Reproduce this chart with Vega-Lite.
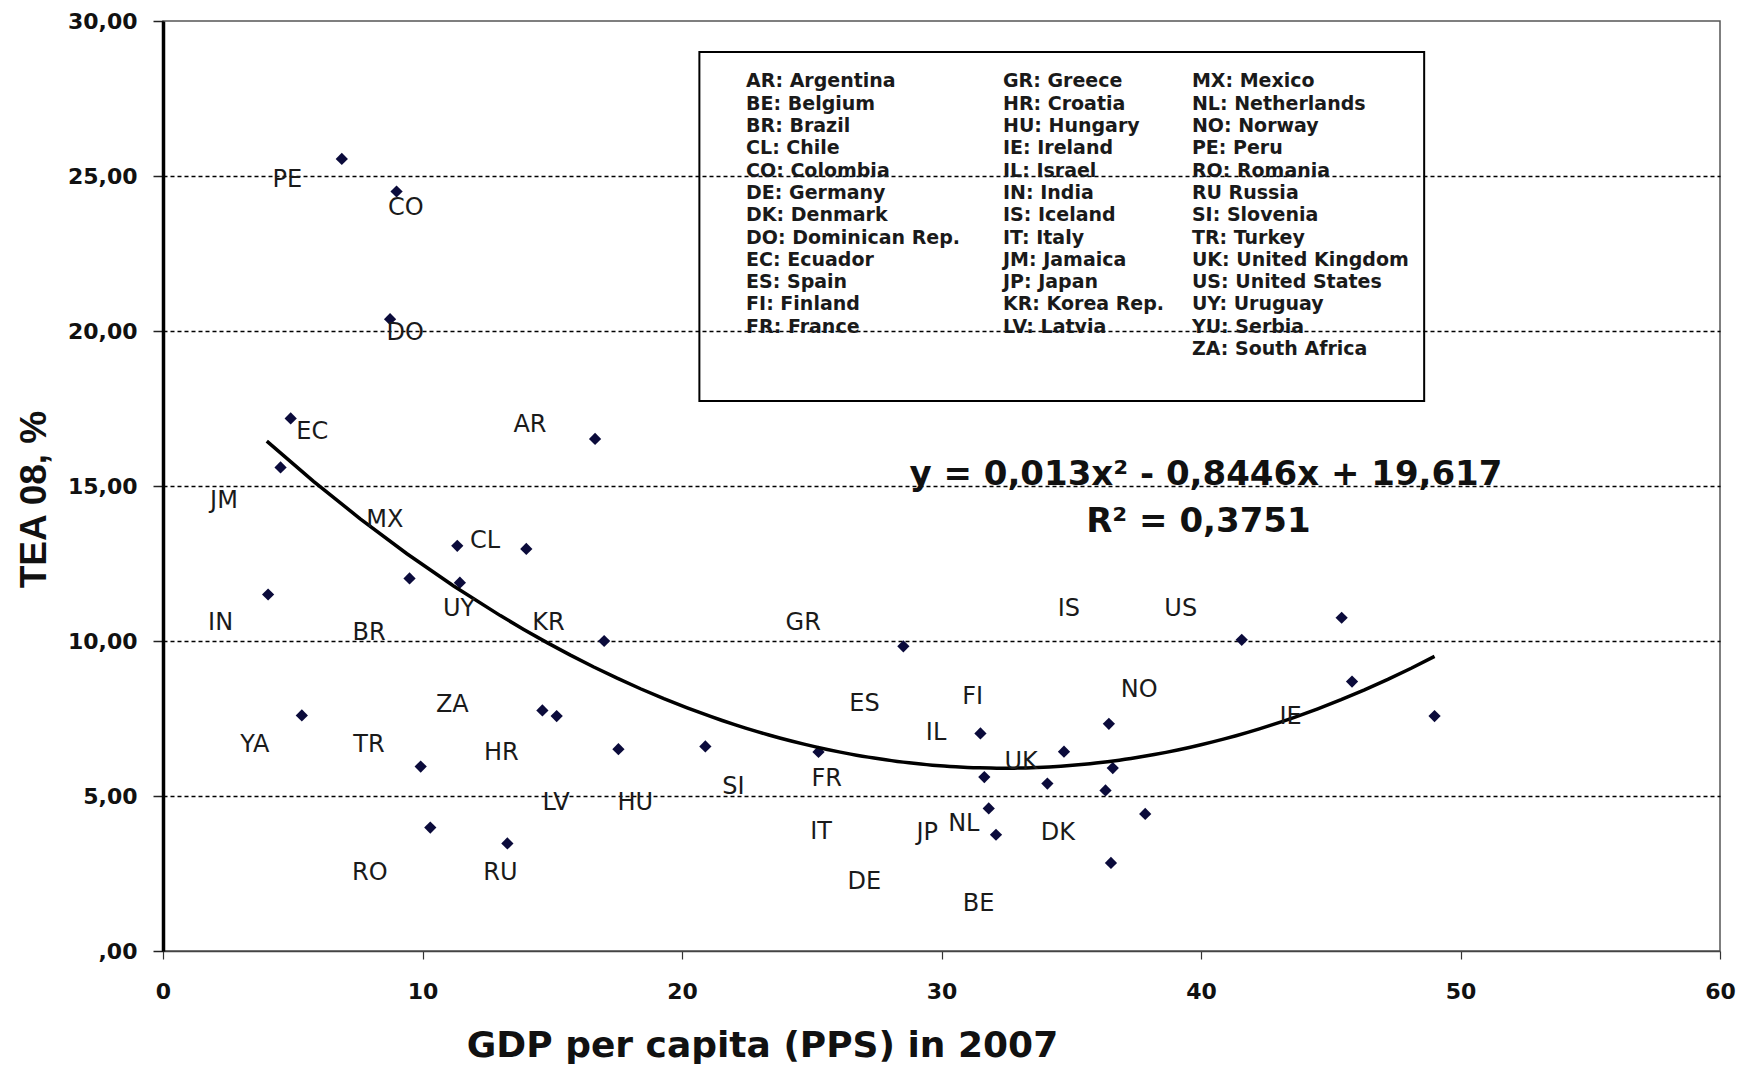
{
  "$schema": "https://vega.github.io/schema/vega-lite/v6.json",
  "width": 1557,
  "height": 930,
  "autosize": {"type": "none"},
  "padding": {"left": 163, "top": 21, "right": 18, "bottom": 115},
  "background": "white",
  "config": {"view": {"stroke": "#555", "strokeWidth": 1.5}, "font": "DejaVu Sans"},
  "datasets": {
    "points": [
      {"gdp": 6.89, "tea": 25.55}, {"gdp": 9.0, "tea": 24.5}, {"gdp": 8.75, "tea": 20.38},
      {"gdp": 4.92, "tea": 17.18}, {"gdp": 4.53, "tea": 15.6}, {"gdp": 16.65, "tea": 16.52},
      {"gdp": 11.34, "tea": 13.07}, {"gdp": 14.0, "tea": 12.97}, {"gdp": 9.5, "tea": 12.02},
      {"gdp": 11.44, "tea": 11.88}, {"gdp": 4.05, "tea": 11.5}, {"gdp": 17.0, "tea": 10.0},
      {"gdp": 28.53, "tea": 9.83}, {"gdp": 41.57, "tea": 10.04}, {"gdp": 45.42, "tea": 10.75},
      {"gdp": 45.82, "tea": 8.69}, {"gdp": 49.0, "tea": 7.58}, {"gdp": 5.35, "tea": 7.6},
      {"gdp": 14.62, "tea": 7.76}, {"gdp": 15.17, "tea": 7.58}, {"gdp": 17.55, "tea": 6.51},
      {"gdp": 20.9, "tea": 6.6}, {"gdp": 25.26, "tea": 6.42}, {"gdp": 9.93, "tea": 5.95},
      {"gdp": 31.5, "tea": 7.02}, {"gdp": 36.45, "tea": 7.33}, {"gdp": 34.72, "tea": 6.43},
      {"gdp": 36.6, "tea": 5.9}, {"gdp": 31.65, "tea": 5.61}, {"gdp": 34.08, "tea": 5.4},
      {"gdp": 36.32, "tea": 5.18}, {"gdp": 31.82, "tea": 4.6}, {"gdp": 37.85, "tea": 4.42},
      {"gdp": 32.1, "tea": 3.75}, {"gdp": 10.3, "tea": 3.98}, {"gdp": 13.27, "tea": 3.47},
      {"gdp": 36.53, "tea": 2.84}
    ],
    "labels": [
      {"code": "PE", "gdp": 4.79, "tea": 24.87}, {"code": "CO", "gdp": 9.36, "tea": 23.96},
      {"code": "DO", "gdp": 9.33, "tea": 19.93}, {"code": "EC", "gdp": 5.75, "tea": 16.75},
      {"code": "AR", "gdp": 14.14, "tea": 16.97}, {"code": "JM", "gdp": 2.35, "tea": 14.53},
      {"code": "MX", "gdp": 8.55, "tea": 13.9}, {"code": "CL", "gdp": 12.41, "tea": 13.24},
      {"code": "IN", "gdp": 2.22, "tea": 10.59}, {"code": "BR", "gdp": 7.94, "tea": 10.27},
      {"code": "UY", "gdp": 11.41, "tea": 11.03}, {"code": "KR", "gdp": 14.85, "tea": 10.59},
      {"code": "GR", "gdp": 24.67, "tea": 10.58}, {"code": "ZA", "gdp": 11.15, "tea": 7.95},
      {"code": "YA", "gdp": 3.54, "tea": 6.63}, {"code": "TR", "gdp": 7.94, "tea": 6.63},
      {"code": "HR", "gdp": 13.04, "tea": 6.38}, {"code": "LV", "gdp": 15.15, "tea": 4.79},
      {"code": "HU", "gdp": 18.2, "tea": 4.79}, {"code": "SI", "gdp": 21.98, "tea": 5.3},
      {"code": "FR", "gdp": 25.58, "tea": 5.54}, {"code": "IT", "gdp": 25.36, "tea": 3.84},
      {"code": "RO", "gdp": 7.97, "tea": 2.52}, {"code": "RU", "gdp": 13.0, "tea": 2.52},
      {"code": "IS", "gdp": 34.91, "tea": 11.02}, {"code": "US", "gdp": 39.22, "tea": 11.02},
      {"code": "ES", "gdp": 27.03, "tea": 7.96}, {"code": "FI", "gdp": 31.2, "tea": 8.2},
      {"code": "NO", "gdp": 37.62, "tea": 8.42}, {"code": "IL", "gdp": 29.79, "tea": 7.04},
      {"code": "IE", "gdp": 43.45, "tea": 7.55}, {"code": "UK", "gdp": 33.07, "tea": 6.1},
      {"code": "JP", "gdp": 29.45, "tea": 3.8}, {"code": "NL", "gdp": 30.86, "tea": 4.11},
      {"code": "DK", "gdp": 34.48, "tea": 3.8}, {"code": "DE", "gdp": 27.03, "tea": 2.22},
      {"code": "BE", "gdp": 31.43, "tea": 1.52}
    ],
    "legend": [
      {"text": "AR: Argentina\nBE: Belgium\nBR: Brazil\nCL: Chile\nCO: Colombia\nDE: Germany\nDK: Denmark\nDO: Dominican Rep.\nEC: Ecuador\nES: Spain\nFI: Finland\nFR: France", "gdp": 22.47, "tea": 28.34},
      {"text": "GR: Greece\nHR: Croatia\nHU: Hungary\nIE: Ireland\nIL: Israel\nIN: India\nIS: Iceland\nIT: Italy\nJM: Jamaica\nJP: Japan\nKR: Korea  Rep.\nLV: Latvia", "gdp": 32.37, "tea": 28.34},
      {"text": "MX: Mexico\nNL: Netherlands\nNO: Norway\nPE: Peru\nRO: Romania\nRU Russia\nSI: Slovenia\nTR: Turkey\nUK: United Kingdom\nUS: United States\nUY: Uruguay\nYU: Serbia\nZA: South Africa", "gdp": 39.65, "tea": 28.34}
    ],
    "box": [{"gdp": 20.67, "gdp2": 48.6, "tea": 17.74, "tea2": 29.0}],
    "equation": [
      {"text": "y = 0,013x² - 0,8446x + 19,617", "gdp": 40.19, "tea": 15.37},
      {"text": "R² = 0,3751", "gdp": 39.9, "tea": 13.84}
    ]
  },
  "layer": [
    {
      "data": {"name": "points"},
      "mark": {"type": "point", "shape": "diamond", "filled": true, "size": 150, "color": "#0b0b3b", "opacity": 1},
      "encoding": {
        "x": {
          "field": "gdp", "type": "quantitative", "title": "GDP per capita (PPS) in 2007",
          "scale": {"domain": [0, 60], "nice": false, "zero": true},
          "axis": {
            "titleFont": "DejaVu Sans", "titleFontSize": 36, "titleFontWeight": "bold", "titleColor": "#111",
            "titleX": 599, "titleY": 94, "titleAlign": "center", "titleBaseline": "middle",
            "values": [0, 10, 20, 30, 40, 50, 60], "format": "d",
            "labelFont": "DejaVu Sans", "labelFontSize": 22, "labelFontWeight": "bold", "labelColor": "#111",
            "labelPadding": 22, "labelFlush": false, "labelOverlap": false,
            "tickSize": 8, "tickColor": "#333", "tickWidth": 1.2,
            "domainColor": "#444", "domainWidth": 1.5, "grid": false
          }
        },
        "y": {
          "field": "tea", "type": "quantitative", "title": "TEA 08, %",
          "scale": {"domain": [0, 30], "nice": false, "zero": true},
          "axis": {
            "titleFont": "Liberation Sans", "titleFontSize": 37, "titleFontWeight": "bold", "titleColor": "#111",
            "titlePadding": 14, "titleY": 478,
            "values": [0, 5, 10, 15, 20, 25, 30],
            "labelExpr": "datum.value == 0 ? ',00' : replace(format(datum.value, '.2f'), '.', ',')",
            "labelFont": "DejaVu Sans", "labelFontSize": 22, "labelFontWeight": "bold", "labelColor": "#111",
            "labelPadding": 16,
            "tickSize": 10, "tickColor": "#222", "tickWidth": 1.5,
            "domainColor": "#000", "domainWidth": 3.5,
            "grid": true, "gridColor": "#000", "gridDash": [4, 3], "gridWidth": 1.3,
            "gridOpacity": {"condition": {"test": "datum.value == 0 || datum.value == 30", "value": 0}, "value": 1}
          }
        }
      }
    },
    {
      "data": {"name": "points"},
      "transform": [{"regression": "tea", "on": "gdp", "method": "poly", "order": 2, "extent": [4, 49]}],
      "mark": {"type": "line", "color": "#000", "strokeWidth": 3.5},
      "encoding": {
        "x": {"field": "gdp", "type": "quantitative", "title": "GDP per capita (PPS) in 2007"},
        "y": {"field": "tea", "type": "quantitative", "title": "TEA 08, %"}
      }
    },
    {
      "data": {"name": "box"},
      "mark": {"type": "rect", "fill": null, "fillOpacity": 0, "stroke": "#000", "strokeWidth": 2},
      "encoding": {
        "x": {"field": "gdp", "type": "quantitative", "title": "GDP per capita (PPS) in 2007"},
        "x2": {"field": "gdp2"},
        "y": {"field": "tea", "type": "quantitative", "title": "TEA 08, %"},
        "y2": {"field": "tea2"}
      }
    },
    {
      "data": {"name": "labels"},
      "mark": {"type": "text", "font": "DejaVu Sans", "fontSize": 24, "color": "#1a1a1a", "align": "center", "baseline": "middle"},
      "encoding": {
        "x": {"field": "gdp", "type": "quantitative", "title": "GDP per capita (PPS) in 2007"},
        "y": {"field": "tea", "type": "quantitative", "title": "TEA 08, %"},
        "text": {"field": "code"}
      }
    },
    {
      "data": {"name": "legend"},
      "mark": {"type": "text", "font": "DejaVu Sans", "fontSize": 19, "fontWeight": "bold", "color": "#1a1a1a", "align": "left", "baseline": "top", "lineBreak": "\n", "lineHeight": 22.3},
      "encoding": {
        "x": {"field": "gdp", "type": "quantitative", "title": "GDP per capita (PPS) in 2007"},
        "y": {"field": "tea", "type": "quantitative", "title": "TEA 08, %"},
        "text": {"field": "text"}
      }
    },
    {
      "data": {"name": "equation"},
      "mark": {"type": "text", "font": "DejaVu Sans", "fontSize": 34, "fontWeight": "bold", "color": "#111", "align": "center", "baseline": "middle"},
      "encoding": {
        "x": {"field": "gdp", "type": "quantitative", "title": "GDP per capita (PPS) in 2007"},
        "y": {"field": "tea", "type": "quantitative", "title": "TEA 08, %"},
        "text": {"field": "text"}
      }
    }
  ]
}
